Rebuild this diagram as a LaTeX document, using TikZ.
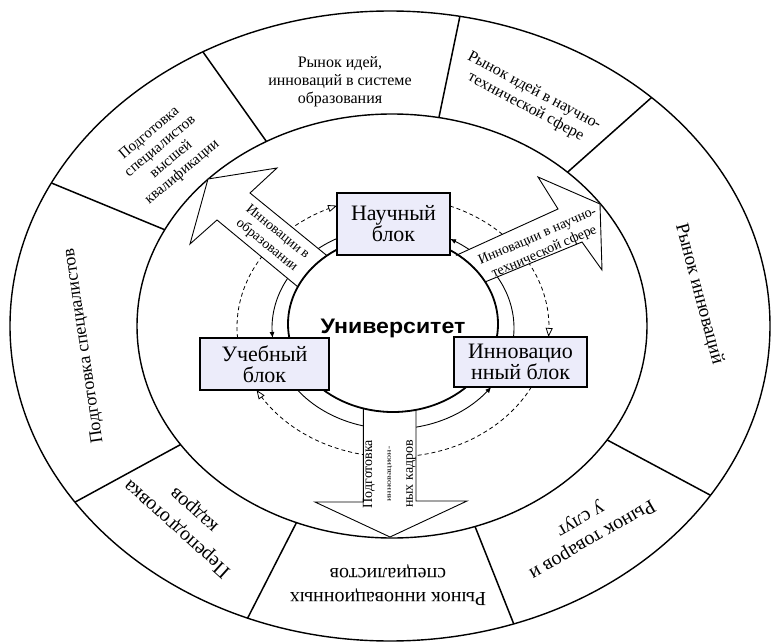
\documentclass[tikz,border=0pt]{standalone}
\usepackage{fontspec}
\setmainfont{Liberation Serif}
\newfontfamily\headsans{Liberation Sans}
\usetikzlibrary{arrows.meta}
\definecolor{boxfill}{RGB}{236,236,250}
\begin{document}
\begin{tikzpicture}[x=1pt,y=-1pt,
  ring/.style={line width=1.4pt},
  divider/.style={line width=1.5pt},
  blockbox/.style={draw, line width=1.1pt, fill=boxfill, inner sep=0pt, align=center,
                   font=\fontsize{22}{21}\selectfont},
  bigarrow/.style={draw, fill=white, line width=0.9pt, line join=miter},
  flowsolid/.style={line width=0.9pt, {Latex[length=6pt,width=5pt]}-},
  flowdash/.style={line width=0.8pt, dash pattern=on 4pt off 3pt,
                   -{Triangle[open, fill=white, length=9pt, width=7pt]}},
  ringtext/.style={align=center, inner sep=0pt},
  arrowtext/.style={align=center, inner sep=0pt, font=\fontsize{14}{17}\selectfont},
]
\useasboundingbox (0,0) rectangle (772,642);

% outer ring and its sectors
\draw[ring] (390,326) ellipse [x radius=380pt, y radius=315pt];
\draw[ring] (392,326) ellipse [x radius=255pt, y radius=212pt];
\foreach \t in {207,240.5,280.6,313.5,32.5,71,112,146}
  \draw[divider] ({392+255*cos(\t)},{326+212*sin(\t)}) -- ({390+380*cos(\t)},{326+315*sin(\t)});

% circulation between the blocks: solid (counter-clockwise)
\draw[flowsolid] plot[domain=174.3:242.4,samples=40] ({393+121*cos(\x)},{328+101*sin(\x)});
\draw[flowsolid] plot[domain=35.7:142.1,samples=50] ({393+121*cos(\x)},{328+101*sin(\x)});
\draw[flowsolid] plot[domain=-61.9:5.1,samples=40] ({393+121*cos(\x)},{328+101*sin(\x)});
% circulation between the blocks: dashed (clockwise)
\draw[flowdash] plot[domain=175.1:249,samples=50] ({393+156*cos(\x)},{327+130*sin(\x)});
\draw[flowdash] plot[domain=291.4:364.4,samples=50] ({393+156*cos(\x)},{327+130*sin(\x)});
\draw[flowdash] plot[domain=27.5:151,samples=60] ({393+156*cos(\x)},{327+130*sin(\x)});

% hollow output arrows
\draw[bigarrow] (326.9,255.6) -- (250,193) -- (277,168) -- (208,179) -- (190,244) -- (217,220)
  -- (297.8,286.8) -- plot[domain=205:231,samples=12] ({393+105*cos(\x)},{324+88*sin(\x)}) -- cycle;
\draw[bigarrow] (485.2,281.9) -- (582,242) -- (602,270) -- (600,204) -- (538,177) -- (558,209)
  -- (457.6,254.7) -- plot[domain=-52:-28.6,samples=10] ({393+105*cos(\x)},{324+88*sin(\x)}) -- cycle;
\draw[bigarrow] (363.3,408.4) -- (363.3,502) -- (315,502) -- (390,537) -- (467,501) -- (416,501)
  -- (416,409.9) -- plot[domain=77.4:106.4,samples=12] ({393+105*cos(\x)},{324+88*sin(\x)}) -- cycle;

% university core
\draw[line width=1.8pt] (393,324) ellipse [x radius=105pt, y radius=88pt];
\node[anchor=base, inner sep=0pt, font=\headsans\bfseries\fontsize{21}{21}\selectfont] (uni) at (393,333) {\scalebox{1.1}[1]{Университет}};

% blocks
\node[blockbox, minimum width=113pt, minimum height=62pt] (sci) at (393.5,224) {Научный\\блок};
\node[blockbox, minimum width=129pt, minimum height=52pt] (edu) at (264.5,364) {Учебный\\блок};
\node[blockbox, minimum width=133pt, minimum height=50pt] (inn) at (520.5,362) {Инновацио\\нный блок};

% labels inside the arrows
\node[arrowtext, rotate=-39] (lblA) at (272,239) {Инновации в\\образовании};
\node[arrowtext, rotate=23.5] (lblB) at (541,244.5) {Инновации в научно-\\технической сфере};
\node[arrowtext, rotate=90] (lblC1) at (369,474) {Подготовка};
\node[arrowtext, rotate=90, font=\fontsize{7}{7}\selectfont] (lblC2) at (390,474) {\scalebox{1.45}[1]{инновацион-}};
\node[arrowtext, rotate=90] (lblC3) at (411,474) {ных кадров};

% sector labels
\node[ringtext, rotate=40, font=\fontsize{15}{17}\selectfont] (s1) at (166,153) {Подготовка\\специалистов\\высшей\\квалификации};
\node[ringtext, font=\fontsize{16}{18}\selectfont] (s2) at (340,82) {Рынок идей,\\инноваций в системе\\образования};
\node[ringtext, rotate=-28, font=\fontsize{16}{18}\selectfont] (s3) at (530,99) {Рынок идей в научно-\\технической сфере};
\node[ringtext, rotate=-75, font=\fontsize{19}{21}\selectfont] (s4) at (699,294) {Рынок инноваций};
\node[ringtext, rotate=210, font=\fontsize{20}{23}\selectfont] (s5) at (586,529) {Рынок товаров и\\у слуг};
\node[ringtext, rotate=180, font=\fontsize{20}{24}\selectfont] (s6) at (388,585) {Рынок инновационных\\специалистов};
\node[ringtext, rotate=138, font=\fontsize{20}{25}\selectfont] (s7) at (186,519) {Переподготовка\\кадров};
\node[ringtext, rotate=98.5, font=\fontsize{18}{20}\selectfont] (s8) at (84,346) {Подготовка специалистов};
\end{tikzpicture}
\end{document}
